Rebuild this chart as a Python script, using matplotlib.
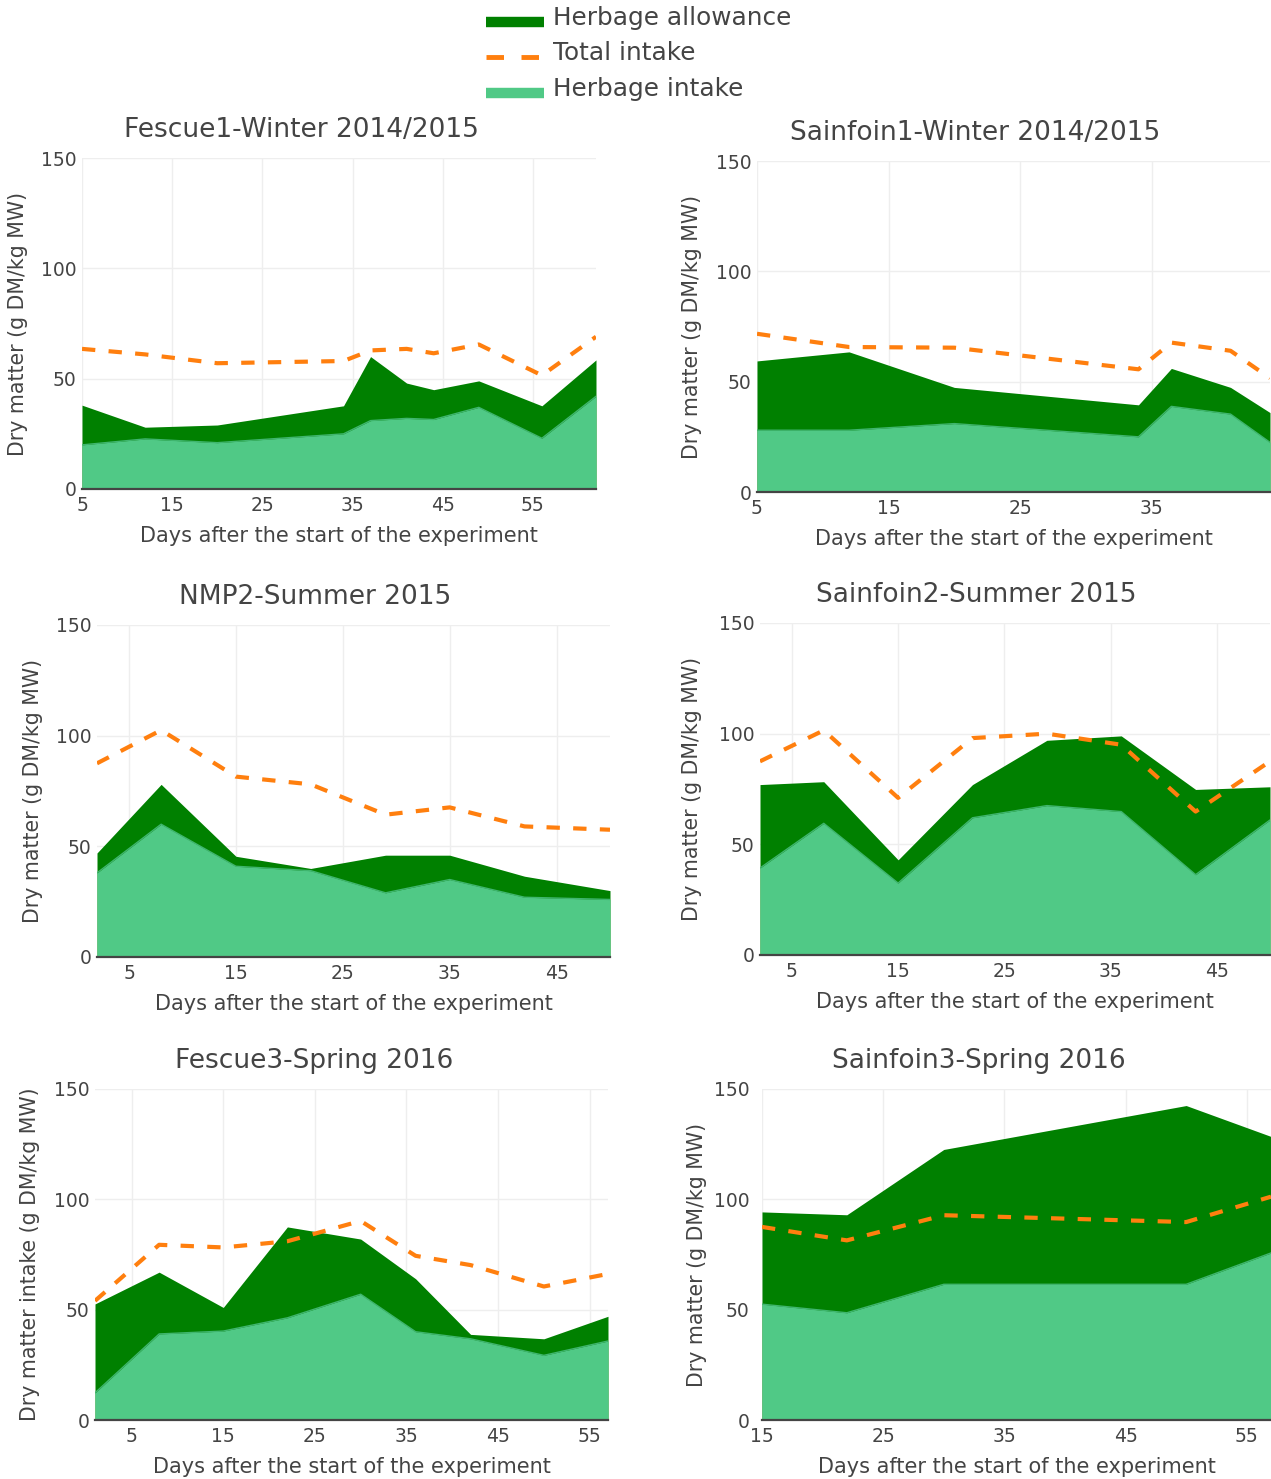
import matplotlib
matplotlib.use("Agg")
import matplotlib.pyplot as plt
from matplotlib.lines import Line2D

plt.rcParams['font.family'] = ['DejaVu Sans']

W, H = 1271, 1479

# ---------------- data ----------------
titles = ["Fescue1-Winter 2014/2015", "Sainfoin1-Winter 2014/2015",
          "NMP2-Summer 2015", "Sainfoin2-Summer 2015",
          "Fescue3-Spring 2016", "Sainfoin3-Spring 2016"]
ylabels = ["Dry matter (g DM/kg MW)", "Dry matter (g DM/kg MW)",
           "Dry matter (g DM/kg MW)", "Dry matter (g DM/kg MW)",
           "Dry matter intake (g DM/kg MW)", "Dry matter (g DM/kg MW)"]
xlabel = "Days after the start of the experiment"

days_fescue1 = [5, 12, 20, 34, 37, 41, 44, 49, 56, 62]
allow_fescue1 = [38, 28, 29, 37.7, 60, 48, 45, 49, 37.7, 58.5]
herb_fescue1 = [20, 22.7, 21, 25, 31, 32, 31.5, 37, 23, 42]
total_fescue1 = [63.5, 61, 57, 58, 62.8, 63.5, 61.5, 65.5, 51.5, 69]

days_sainfoin1 = [5, 12, 20, 34, 36.5, 41, 44]
allow_sainfoin1 = [59.4, 63.5, 47.4, 39.5, 56, 47.4, 36]
herb_sainfoin1 = [28, 28, 31, 25, 38.8, 35.3, 22.5]
total_sainfoin1 = [71.7, 65.7, 65.4, 55.6, 67.7, 64, 51.6]

days_nmp2 = [2, 8, 15, 22, 29, 35, 42, 50]
allow_nmp2 = [47, 78, 45.5, 40, 46, 46, 36.5, 30]
herb_nmp2 = [38, 60, 41, 39, 29, 35, 27, 26]
total_nmp2 = [87.5, 102.5, 81.5, 78, 64.3, 67.6, 59, 57.5]

days_sainfoin2 = [2, 8, 15, 22, 29, 36, 43, 50]
allow_sainfoin2 = [77, 78.3, 43, 77, 97, 99, 74.8, 76]
herb_sainfoin2 = [39.3, 59.5, 32.5, 62, 67.5, 64.8, 36.3, 61]
total_sainfoin2 = [87.5, 101.5, 71, 98, 100, 95, 64.8, 87.5]

days_fescue3 = [1, 8, 15, 22, 30, 36, 42, 50, 57]
allow_fescue3 = [52.6, 67, 51, 87.5, 82, 64, 38.8, 36.8, 47]
herb_fescue3 = [12.3, 39, 40.3, 46.3, 57, 40, 36.8, 29.3, 35.8]
total_fescue3 = [54, 79.4, 78.2, 81, 90.2, 74.4, 70.2, 60.5, 66.2]

days_sainfoin3 = [15, 22, 30, 50, 57]
allow_sainfoin3 = [94.3, 93, 122.6, 142.5, 128.5]
herb_sainfoin3 = [52.5, 48.6, 61.5, 61.5, 75.7]
total_sainfoin3 = [87.5, 81.4, 92.8, 89.7, 101.2]

xticks_list = [[5, 15, 25, 35, 45, 55], [5, 15, 25, 35],
               [5, 15, 25, 35, 45], [5, 15, 25, 35, 45],
               [5, 15, 25, 35, 45, 55], [15, 25, 35, 45, 55]]
yticks = [0, 50, 100, 150]

legend_labels = ["Herbage allowance", "Total intake", "Herbage intake"]

panels = [
    (days_fescue1, allow_fescue1, herb_fescue1, total_fescue1),
    (days_sainfoin1, allow_sainfoin1, herb_sainfoin1, total_sainfoin1),
    (days_nmp2, allow_nmp2, herb_nmp2, total_nmp2),
    (days_sainfoin2, allow_sainfoin2, herb_sainfoin2, total_sainfoin2),
    (days_fescue3, allow_fescue3, herb_fescue3, total_fescue3),
    (days_sainfoin3, allow_sainfoin3, herb_sainfoin3, total_sainfoin3),
]

# ---------------- layout (pixels) ----------------
boxes = [(82, 158, 596, 489), (757, 161, 1270, 492),
         (97, 625, 610, 957), (760, 623, 1270, 955),
         (95, 1089, 608, 1420), (762, 1089, 1271, 1420)]
title_pos = [(301, 130), (975, 133), (315, 597), (976, 595), (314, 1061), (979, 1061)]
ylabel_x = [18, 692, 33, 692, 30, 697]
ytick_pad = [4, 4, 4, 4, 4, 9]

DARK = "#008000"
LIGHT = "#50C986"
ORANGE = "#ff7f0e"
TXT = "#444444"

fig = plt.figure(figsize=(W / 100, H / 100), dpi=100)


def fx(px):
    return px / W


def fy(py):
    return 1 - py / H


for i, (box, data) in enumerate(zip(boxes, panels)):
    l, t, r, b = box
    ax = fig.add_axes([fx(l), fy(b), (r - l) / W, (b - t) / H])
    d, a, h, tot = data
    ax.fill_between(d, 0, a, color=DARK, linewidth=0, zorder=2)
    ax.fill_between(d, 0, h, color=LIGHT, linewidth=0, zorder=3)
    ax.plot(d, h, color="#3fb56e", linewidth=1.0, zorder=3.5)
    ax.plot(d, tot, color=ORANGE, linewidth=3, linestyle=(0, (3.2, 3.2)),
            zorder=5, solid_capstyle='butt', dash_capstyle='butt')
    ax.set_xlim(min(d), max(d))
    ax.set_ylim(0, 150)
    ax.set_xticks(xticks_list[i])
    ax.set_yticks(yticks)
    ax.grid(True, color="#eeeeee", linewidth=1.0, zorder=0)
    ax.set_axisbelow(True)
    for s in ax.spines.values():
        s.set_visible(False)
    ax.axhline(0, color=TXT, linewidth=1.6, zorder=6, clip_on=False)
    ax.tick_params(axis='both', length=0, labelsize=13.5, colors=TXT)
    ax.tick_params(axis='x', pad=5)
    ax.tick_params(axis='y', pad=ytick_pad[i])
    ax.set_xlabel(xlabel, fontsize=15, color=TXT, labelpad=8)
    ax.set_ylabel(ylabels[i], fontsize=14.8, color=TXT)
    ax.yaxis.label.set_va('center')
    ax.yaxis.set_label_coords((ylabel_x[i] - l) / (r - l), 0.5)
    tx, ty = title_pos[i]
    fig.text(fx(tx), fy(ty), titles[i], fontsize=19, color=TXT,
             ha='center', va='center')

# ---------------- legend ----------------
leg_rows = [18, 53, 89]
styles = [dict(color=DARK, linewidth=7.5, solid_capstyle='butt'),
          dict(color=ORANGE, linewidth=3.5, linestyle=(0, (3.6, 3.6)), dash_capstyle='butt'),
          dict(color=LIGHT, linewidth=7.5, solid_capstyle='butt')]
for y, lab, st in zip(leg_rows, legend_labels, styles):
    fig.add_artist(Line2D([fx(486), fx(544)], [fy(y + 4), fy(y + 4)],
                          transform=fig.transFigure, **st))
    fig.text(fx(553), fy(y), lab, fontsize=17.8, color=TXT, ha='left', va='center')

fig.savefig("out.png", dpi=100)
